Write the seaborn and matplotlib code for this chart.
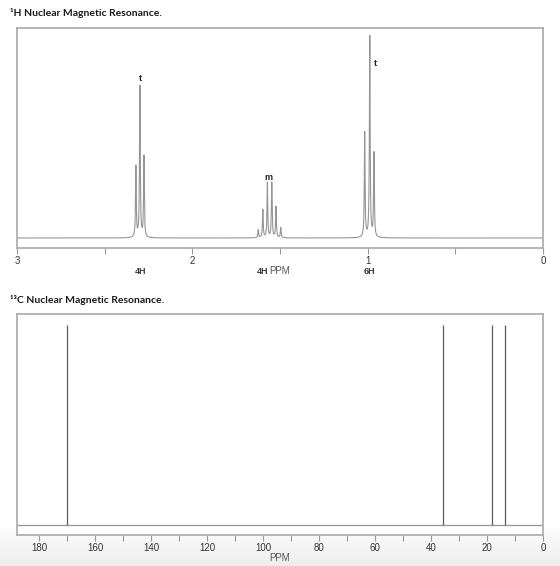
import seaborn as sns
import pandas as pd
import numpy as np
import matplotlib.pyplot as plt

sns.set_style("white")
plt.rcParams['font.family'] = ['Liberation Sans', 'DejaVu Sans']

# 1H peaks (ppm, relative height)
h_ppm = [2.322, 2.299, 2.276,
         1.624, 1.598, 1.572, 1.547, 1.523, 1.496,
         1.017, 0.988, 0.964]
h_height = [35.3, 75.1, 40.3,
            4.0, 14.0, 27.4, 27.4, 15.4, 5.0,
            52.2, 100.0, 41.8]
h_mult = ['t', 'm', 't']
h_mult_ppm = [2.298, 1.568, 0.955]
h_mult_y = [79.6, 29.9, 86.6]
h_integ = ['4H', '4H', '6H']
h_integ_ppm = [2.295, 1.597, 0.988]
h_ticks = [3, 2, 1, 0]
h_minor = [2.5, 1.5, 0.5]

# 13C peaks
c_ppm = [170.2, 35.7, 18.1, 13.6]
c_height = [100, 100, 100, 100]
c_ticks = [180, 160, 140, 120, 100, 80, 60, 40, 20, 0]
c_minor = [170, 150, 130, 110, 90, 70, 50, 30, 10]

frame_col = '#b0b0b0'
line_col = '#959595'
text_col = '#333333'

fig = plt.figure(figsize=(5.6, 5.66), dpi=100)

# light grey gradient strip at the bottom
bg = fig.add_axes([0, 0, 1, 38 / 566], zorder=-5)
bg.imshow(np.linspace(0.985, 0.93, 50).reshape(-1, 1), cmap='gray', vmin=0, vmax=1,
          aspect='auto', extent=[0, 1, 0, 1])
bg.axis('off')

def style_axes(ax):
    for s in ax.spines.values():
        s.set_color(frame_col)
        s.set_linewidth(1.3)
    ax.tick_params(axis='x', which='both', bottom=True, direction='out', colors=text_col,
                   labelsize=7, pad=1.5)
    ax.tick_params(axis='x', which='both', length=4, width=0.8, color='#999999')
    ax.set_yticks([])
    ax.set_ylabel('')

# ---- 1H spectrum ----
ax1 = fig.add_axes([17 / 560, 1 - 248 / 566, 526 / 560, 220 / 566])
x = np.linspace(3, 0, 12001)
gamma = 0.0025
y = np.zeros_like(x)
for p, h in zip(h_ppm, h_height):
    y += h * gamma**2 / ((x - p)**2 + gamma**2)
df1 = pd.DataFrame({'ppm': x, 'intensity': y})
sns.lineplot(data=df1, x='ppm', y='intensity', ax=ax1, color=line_col,
             linewidth=0.8, sort=False, estimator=None)
ax1.set_xlim(3, 0)
ax1.set_ylim(-4.98, 104.5)
ax1.set_xticks(h_ticks)
ax1.set_xticks(h_minor, minor=True)
ax1.set_xticklabels([str(t) for t in h_ticks])
style_axes(ax1)
for lab, p, yy in zip(h_mult, h_mult_ppm, h_mult_y):
    ax1.text(p, yy, lab, ha='center', va='center', fontsize=6.5,
             fontweight='bold', color='#222222')
for lab, p in zip(h_integ, h_integ_ppm):
    ax1.text(p, -0.108, lab, transform=ax1.get_xaxis_transform(), ha='center',
             va='center', fontsize=6.5, fontweight='bold', color='#3a3a3a')
ax1.set_xlabel('PPM', fontsize=7, color='#555555', labelpad=0)

# ---- 13C spectrum ----
ax2 = fig.add_axes([17 / 560, 1 - 535 / 566, 526 / 560, 221 / 566])
ax2.axhline(0, color=line_col, linewidth=0.9)
ax2.vlines(c_ppm, 0, c_height, color='#5a5a5a', linewidth=0.9)
ax2.set_xlim(187.9, 0)
ax2.set_ylim(-5, 105.5)
ax2.set_xticks(c_ticks)
ax2.set_xticks(c_minor, minor=True)
ax2.set_xticklabels([str(t) for t in c_ticks])
style_axes(ax2)
ax2.set_xlabel('PPM', fontsize=7, color='#555555', labelpad=0)

# titles
fig.text(10 / 560, 1 - 13 / 566, '¹H Nuclear Magnetic Resonance.', fontsize=7.5,
         fontweight='bold', color='#1a1a1a', va='center', family=['Lato', 'DejaVu Sans'])
fig.text(10 / 560, 1 - 300 / 566, '¹³C Nuclear Magnetic Resonance.', fontsize=7.5,
         fontweight='bold', color='#1a1a1a', va='center', family=['Lato', 'DejaVu Sans'])

fig.savefig('out.png', dpi=100)
